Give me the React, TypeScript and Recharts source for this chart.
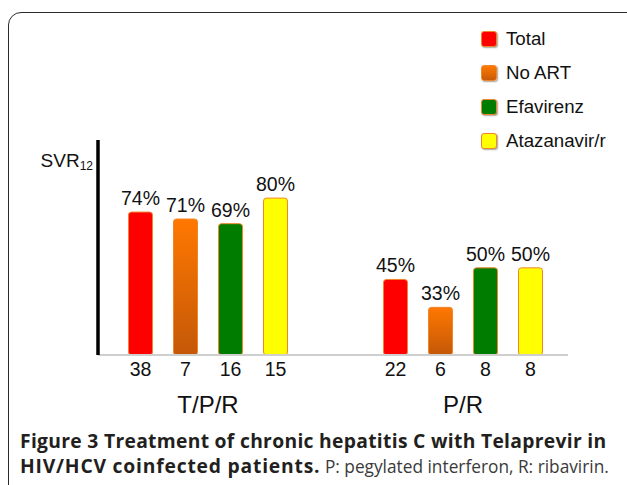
import React from 'react';
import { BarChart, Bar, XAxis, YAxis, LabelList, Legend, Label } from 'recharts';

const groups = ['T/P/R', 'P/R'];
const seriesNames = ['Total', 'No ART', 'Efavirenz', 'Atazanavir/r'];
const totalPct = [74, 45];
const noArtPct = [71, 33];
const efavirenzPct = [69, 50];
const atazanavirPct = [80, 50];
const totalN = [38, 22];
const noArtN = [7, 6];
const efavirenzN = [16, 8];
const atazanavirN = [15, 8];
const yAxisTitle = 'SVR';
const yAxisSub = '12';
const captionBold1 = 'Figure 3 Treatment of chronic hepatitis C with Telaprevir in';
const captionBold2 = 'HIV/HCV coinfected patients.';
const captionRest = ' P: pegylated interferon, R: ribavirin.';

const data = groups.map((g, i) => ({
  group: g,
  total: totalPct[i],
  noArt: noArtPct[i],
  efavirenz: efavirenzPct[i],
  atazanavir: atazanavirPct[i],
  totalN: totalN[i],
  noArtN: noArtN[i],
  efavirenzN: efavirenzN[i],
  atazanavirN: atazanavirN[i],
}));

const FONT = '"Liberation Sans", Arial, Helvetica, sans-serif';

const series = [
  { key: 'total', nKey: 'totalN', name: seriesNames[0], fill: '#ff0000', swatch: '#ff0000' },
  { key: 'noArt', nKey: 'noArtN', name: seriesNames[1], fill: 'url(#noArtGrad)', swatch: 'linear-gradient(#ff7a00, #c85a08)' },
  { key: 'efavirenz', nKey: 'efavirenzN', name: seriesNames[2], fill: '#007d00', swatch: '#007d00' },
  { key: 'atazanavir', nKey: 'atazanavirN', name: seriesNames[3], fill: '#ffff00', swatch: '#ffff00' },
];

const CountLabel = (props: any) => {
  const { x, y, width, height, value } = props;
  return (
    <text x={Number(x) + Number(width) / 2} y={Number(y) + Number(height) + 21} textAnchor="middle" fontSize={19.5} fontFamily={FONT} fill="#111">
      {value}
    </text>
  );
};

const GroupTick = (props: any) => {
  const { x, y, payload } = props;
  return (
    <text x={x} y={y + 58} textAnchor="middle" fontSize={24} fontFamily={FONT} fill="#111">
      {payload.value}
    </text>
  );
};

const YTitle = (props: any) => {
  const vb = props.viewBox || { x: 97, y: 140, width: 1 };
  const right = Number(vb.x) + Number(vb.width || 0);
  return (
    <text x={right - 5} y={Number(vb.y) + 27} textAnchor="end" fontFamily={FONT} fill="#111">
      <tspan fontSize={19}>{yAxisTitle}</tspan>
      <tspan fontSize={12} dy={3}>{yAxisSub}</tspan>
    </text>
  );
};

const renderLegend = () => (
  <div>
    {series.map((s) => (
      <div key={s.key} style={{ display: 'flex', alignItems: 'center', height: 34 }}>
        <span
          style={{
            display: 'inline-block',
            width: 14,
            height: 14,
            borderRadius: 3,
            background: s.swatch,
            border: '1px solid #f0862a',
            boxShadow: '1px 1px 1.5px rgba(0,0,0,0.35)',
            marginRight: 9,
          }}
        />
        <span style={{ fontSize: 18.7, fontFamily: FONT, color: '#111' }}>{s.name}</span>
      </div>
    ))}
  </div>
);

export default function App() {
  return (
    <div style={{ position: 'absolute', left: 0, top: 0, width: 627, height: 485, overflow: 'hidden', background: '#fff' }}>
      <div
        style={{
          position: 'absolute',
          left: 8,
          top: 12,
          width: 640,
          height: 520,
          border: '1.5px solid #2b2b2b',
          borderRadius: 13,
          boxSizing: 'border-box',
        }}
      />
      <div style={{ position: 'absolute', left: 0, top: 0 }}>
        <BarChart
          width={627}
          height={485}
          data={data}
          margin={{ top: 140, right: 59, bottom: 70, left: 97 }}
          barSize={24}
          barGap={21}
        >
          <defs>
            <linearGradient id="noArtGrad" x1="0" y1="0" x2="0" y2="1">
              <stop offset="0%" stopColor="#ff7800" />
              <stop offset="100%" stopColor="#c45808" />
            </linearGradient>
          </defs>
          <XAxis
            dataKey="group"
            height={60}
            tickLine={false}
            tickSize={0}
            tickMargin={0}
            tick={<GroupTick />}
            axisLine={{ stroke: '#cfcfcf', strokeWidth: 2 }}
            padding={{ left: -17.5, right: -22.5 }}
            interval={0}
          />
          <YAxis
            type="number"
            domain={[12.5, 105]}
            width={1}
            tick={false}
            tickLine={false}
            axisLine={{ stroke: '#000', strokeWidth: 3.5 }}
          >
            <Label content={<YTitle />} />
          </YAxis>
          <Legend
            layout="vertical"
            align="center"
            verticalAlign="middle"
            content={renderLegend}
            wrapperStyle={{ left: 481, top: 22, width: 150, height: 140 }}
          />
          {series.map((s) => (
            <Bar
              key={s.key}
              dataKey={s.key}
              name={s.name}
              fill={s.fill}
              stroke="#f0862a"
              strokeWidth={1}
              radius={[3, 3, 3, 3]}
              isAnimationActive={false}
            >
              <LabelList
                dataKey={s.key}
                position="top"
                offset={7}
                formatter={(v: any) => `${v}%`}
                style={{ fontSize: 19.5, fontFamily: FONT, fill: '#111' }}
              />
              <LabelList dataKey={s.nKey} content={<CountLabel />} />
            </Bar>
          ))}
        </BarChart>
      </div>
      <div
        style={{
          position: 'absolute',
          left: 20,
          top: 428,
          fontFamily: '"Open Sans", sans-serif',
          fontSize: 17,
          lineHeight: '25px',
          color: '#231f20',
          whiteSpace: 'nowrap',
        }}
      >
        <div style={{ fontWeight: 700, fontSize: 19.3, letterSpacing: 0.3 }}>{captionBold1}</div>
        <div>
          <span style={{ fontWeight: 700, fontSize: 19.3, letterSpacing: 0.8 }}>{captionBold2}</span>
          <span style={{ fontWeight: 400, color: '#3a3a3a', fontSize: 17.3 }}>{captionRest}</span>
        </div>
      </div>
    </div>
  );
}
